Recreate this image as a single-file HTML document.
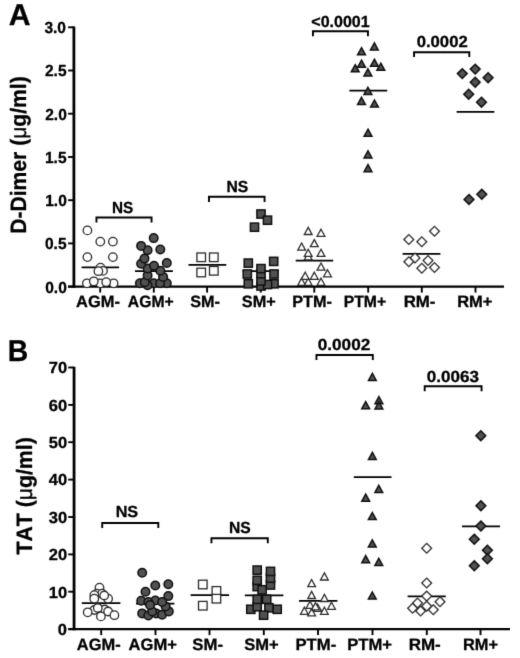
<!DOCTYPE html>
<html lang="en">
<head>
<meta charset="utf-8">
<title>D-Dimer and TAT levels</title>
<style>
html,body{margin:0;padding:0;background:#fff;}
body{width:520px;height:658px;overflow:hidden;}
svg{display:block;}
svg text{font-family:"Liberation Sans",Arial,Helvetica,sans-serif;font-weight:bold;text-rendering:geometricPrecision;font-kerning:none;fill:#000;stroke:#000;stroke-width:0.3px;stroke-linejoin:round;}
</style>
</head>
<body>
<svg width="520" height="658" viewBox="0 0 520 658">
<defs>
<filter id="soft" x="0" y="0" width="520" height="658" filterUnits="userSpaceOnUse" color-interpolation-filters="sRGB">
<feConvolveMatrix order="3" kernelMatrix="0 1 0 1 6 1 0 1 0" edgeMode="duplicate" preserveAlpha="false"/>
</filter>
</defs>
<rect width="520" height="658" fill="#fff"/>
<g filter="url(#soft)">
<rect width="520" height="658" fill="#fff"/>
<line x1="73.9" y1="26.5" x2="73.9" y2="287.8" stroke="#000" stroke-width="2.8"/>
<line x1="68.10000000000001" y1="286.6" x2="504.0" y2="286.6" stroke="#000" stroke-width="2.4"/>
<line x1="68.10000000000001" y1="286.6" x2="73.9" y2="286.6" stroke="#000" stroke-width="1.9"/>
<text transform="translate(45.20 292.50) scale(0.970 1)" font-size="16.0">0.0</text>
<line x1="68.10000000000001" y1="243.4" x2="73.9" y2="243.4" stroke="#000" stroke-width="1.9"/>
<text transform="translate(44.97 249.28) scale(0.970 1)" font-size="16.0">0.5</text>
<line x1="68.10000000000001" y1="200.2" x2="73.9" y2="200.2" stroke="#000" stroke-width="1.9"/>
<text transform="translate(45.20 206.07) scale(0.970 1)" font-size="16.0">1.0</text>
<line x1="68.10000000000001" y1="157.0" x2="73.9" y2="157.0" stroke="#000" stroke-width="1.9"/>
<text transform="translate(44.97 162.85) scale(0.970 1)" font-size="16.0">1.5</text>
<line x1="68.10000000000001" y1="113.7" x2="73.9" y2="113.7" stroke="#000" stroke-width="1.9"/>
<text transform="translate(45.20 119.63) scale(0.970 1)" font-size="16.0">2.0</text>
<line x1="68.10000000000001" y1="70.5" x2="73.9" y2="70.5" stroke="#000" stroke-width="1.9"/>
<text transform="translate(44.97 76.42) scale(0.970 1)" font-size="16.0">2.5</text>
<line x1="68.10000000000001" y1="27.3" x2="73.9" y2="27.3" stroke="#000" stroke-width="1.9"/>
<text transform="translate(44.40 33.20) scale(0.970 1)" font-size="16.0">3.0</text>
<line x1="100.2" y1="286.6" x2="100.2" y2="292.6" stroke="#000" stroke-width="1.9"/>
<text transform="translate(76.09 306.90) scale(1.003 1)" font-size="16.4">AGM-</text>
<line x1="153.8" y1="286.6" x2="153.8" y2="292.6" stroke="#000" stroke-width="1.9"/>
<text transform="translate(127.86 306.90) scale(0.958 1)" font-size="16.4">AGM+</text>
<line x1="207.1" y1="286.6" x2="207.1" y2="292.6" stroke="#000" stroke-width="1.9"/>
<text transform="translate(190.26 306.90) scale(0.988 1)" font-size="16.4">SM-</text>
<line x1="260.8" y1="286.6" x2="260.8" y2="292.6" stroke="#000" stroke-width="1.9"/>
<text transform="translate(241.76 306.90) scale(0.994 1)" font-size="16.4">SM+</text>
<line x1="314.3" y1="286.6" x2="314.3" y2="292.6" stroke="#000" stroke-width="1.9"/>
<text transform="translate(292.19 306.90) scale(0.993 1)" font-size="16.4">PTM-</text>
<line x1="368.2" y1="286.6" x2="368.2" y2="292.6" stroke="#000" stroke-width="1.9"/>
<text transform="translate(343.72 306.90) scale(0.962 1)" font-size="16.4">PTM+</text>
<line x1="421.8" y1="286.6" x2="421.8" y2="292.6" stroke="#000" stroke-width="1.9"/>
<text transform="translate(403.65 306.90) scale(1.028 1)" font-size="16.4">RM-</text>
<line x1="475.5" y1="286.6" x2="475.5" y2="292.6" stroke="#000" stroke-width="1.9"/>
<text transform="translate(457.18 306.90) scale(1.007 1)" font-size="16.4">RM+</text>
<text transform="translate(8.80 24.70) scale(0.995 1)" font-size="30.3">A</text>
<text transform="translate(25.9 233.8) rotate(-90) scale(0.951 1)" font-size="22.2">D-Dimer (<tspan font-weight="normal">μ</tspan>g/ml)</text>
<line x1="81.6" y1="267.3" x2="119.1" y2="267.3" stroke="#000" stroke-width="1.75"/>
<line x1="135.0" y1="271.1" x2="172.9" y2="271.1" stroke="#000" stroke-width="1.75"/>
<line x1="188.5" y1="264.8" x2="226.3" y2="264.8" stroke="#000" stroke-width="1.75"/>
<line x1="242.6" y1="271.1" x2="278.8" y2="271.1" stroke="#000" stroke-width="1.75"/>
<line x1="295.7" y1="260.6" x2="333.2" y2="260.6" stroke="#000" stroke-width="1.75"/>
<line x1="349.4" y1="90.7" x2="387.2" y2="90.7" stroke="#000" stroke-width="1.75"/>
<line x1="402.6" y1="253.8" x2="440.4" y2="253.8" stroke="#000" stroke-width="1.75"/>
<line x1="456.6" y1="111.9" x2="494.3" y2="111.9" stroke="#000" stroke-width="1.75"/>
<path d="M96.45 222.5V217.50H151.55V222.5" fill="none" stroke="#000" stroke-width="1.9"/>
<text transform="translate(111.96 212.70) scale(0.953 1)" font-size="16.0">NS</text>
<path d="M208.95 202.0V196.80H264.55V202.0" fill="none" stroke="#000" stroke-width="1.9"/>
<text transform="translate(226.43 192.30) scale(0.978 1)" font-size="16.0">NS</text>
<path d="M312.95 36.2V31.30H367.95V36.2" fill="none" stroke="#000" stroke-width="1.9"/>
<text transform="translate(311.31 26.90) scale(1.000 1)" font-size="16.0">&lt;0.0001</text>
<path d="M414.05 56.9V52.20H469.30V56.9" fill="none" stroke="#000" stroke-width="1.9"/>
<text transform="translate(416.68 46.60) scale(1.042 1)" font-size="16.0">0.0002</text>
<line x1="74.05" y1="366.7" x2="74.05" y2="630.3000000000001" stroke="#000" stroke-width="2.8"/>
<line x1="68.25" y1="629.1" x2="510.0" y2="629.1" stroke="#000" stroke-width="2.4"/>
<line x1="68.25" y1="629.1" x2="74.05" y2="629.1" stroke="#000" stroke-width="1.9"/>
<text transform="translate(57.86 635.10) scale(1.030 1)" font-size="16.0">0</text>
<line x1="68.25" y1="591.7" x2="74.05" y2="591.7" stroke="#000" stroke-width="1.9"/>
<text transform="translate(48.72 597.67) scale(1.030 1)" font-size="16.0">10</text>
<line x1="68.25" y1="554.4" x2="74.05" y2="554.4" stroke="#000" stroke-width="1.9"/>
<text transform="translate(48.72 560.24) scale(1.030 1)" font-size="16.0">20</text>
<line x1="68.25" y1="517.0" x2="74.05" y2="517.0" stroke="#000" stroke-width="1.9"/>
<text transform="translate(48.72 522.81) scale(1.030 1)" font-size="16.0">30</text>
<line x1="68.25" y1="479.6" x2="74.05" y2="479.6" stroke="#000" stroke-width="1.9"/>
<text transform="translate(48.72 485.39) scale(1.030 1)" font-size="16.0">40</text>
<line x1="68.25" y1="442.2" x2="74.05" y2="442.2" stroke="#000" stroke-width="1.9"/>
<text transform="translate(48.72 447.96) scale(1.030 1)" font-size="16.0">50</text>
<line x1="68.25" y1="404.9" x2="74.05" y2="404.9" stroke="#000" stroke-width="1.9"/>
<text transform="translate(48.72 410.53) scale(1.030 1)" font-size="16.0">60</text>
<line x1="68.25" y1="367.5" x2="74.05" y2="367.5" stroke="#000" stroke-width="1.9"/>
<text transform="translate(48.72 373.10) scale(1.030 1)" font-size="16.0">70</text>
<line x1="101.2" y1="629.1" x2="101.2" y2="635.1" stroke="#000" stroke-width="1.9"/>
<text transform="translate(76.84 650.10) scale(1.003 1)" font-size="16.4">AGM-</text>
<line x1="155.5" y1="629.1" x2="155.5" y2="635.1" stroke="#000" stroke-width="1.9"/>
<text transform="translate(128.59 650.10) scale(1.011 1)" font-size="16.4">AGM+</text>
<line x1="209.5" y1="629.1" x2="209.5" y2="635.1" stroke="#000" stroke-width="1.9"/>
<text transform="translate(192.25 650.10) scale(1.023 1)" font-size="16.4">SM-</text>
<line x1="263.8" y1="629.1" x2="263.8" y2="635.1" stroke="#000" stroke-width="1.9"/>
<text transform="translate(244.25 650.10) scale(1.009 1)" font-size="16.4">SM+</text>
<line x1="318.0" y1="629.1" x2="318.0" y2="635.1" stroke="#000" stroke-width="1.9"/>
<text transform="translate(295.41 650.10) scale(1.019 1)" font-size="16.4">PTM-</text>
<line x1="372.5" y1="629.1" x2="372.5" y2="635.1" stroke="#000" stroke-width="1.9"/>
<text transform="translate(347.17 650.10) scale(1.015 1)" font-size="16.4">PTM+</text>
<line x1="426.8" y1="629.1" x2="426.8" y2="635.1" stroke="#000" stroke-width="1.9"/>
<text transform="translate(408.64 650.10) scale(1.037 1)" font-size="16.4">RM-</text>
<line x1="480.5" y1="629.1" x2="480.5" y2="635.1" stroke="#000" stroke-width="1.9"/>
<text transform="translate(462.93 650.10) scale(0.999 1)" font-size="16.4">RM+</text>
<text transform="translate(7.71 361.40) scale(0.945 1)" font-size="30">B</text>
<text transform="translate(32.1 554.5) rotate(-90) scale(0.957 1)" font-size="22.2">TAT (<tspan font-weight="normal">μ</tspan>g/ml)</text>
<line x1="81.8" y1="603.2" x2="120.4" y2="603.2" stroke="#000" stroke-width="1.75"/>
<line x1="136.0" y1="603.5" x2="174.4" y2="603.5" stroke="#000" stroke-width="1.75"/>
<line x1="190.6" y1="595.0" x2="229.1" y2="595.0" stroke="#000" stroke-width="1.75"/>
<line x1="244.8" y1="595.4" x2="283.4" y2="595.4" stroke="#000" stroke-width="1.75"/>
<line x1="299.0" y1="600.9" x2="337.4" y2="600.9" stroke="#000" stroke-width="1.75"/>
<line x1="353.8" y1="477.1" x2="391.5" y2="477.1" stroke="#000" stroke-width="1.75"/>
<line x1="407.6" y1="596.4" x2="445.8" y2="596.4" stroke="#000" stroke-width="1.75"/>
<line x1="462.0" y1="526.3" x2="500.0" y2="526.3" stroke="#000" stroke-width="1.75"/>
<path d="M102.20 528.0V523.00H158.30V528.0" fill="none" stroke="#000" stroke-width="1.9"/>
<text transform="translate(115.65 517.30) scale(1.014 1)" font-size="16.0">NS</text>
<path d="M211.45 543.2V538.25H267.80V543.2" fill="none" stroke="#000" stroke-width="1.9"/>
<text transform="translate(228.93 532.80) scale(0.978 1)" font-size="16.0">NS</text>
<path d="M316.45 360.0V355.00H372.80V360.0" fill="none" stroke="#000" stroke-width="1.9"/>
<text transform="translate(317.76 350.20) scale(1.072 1)" font-size="16.0">0.0002</text>
<path d="M424.70 391.2V386.25H481.55V391.2" fill="none" stroke="#000" stroke-width="1.9"/>
<text transform="translate(426.77 381.80) scale(1.065 1)" font-size="16.0">0.0063</text>
<circle cx="87.4" cy="230.4" r="4.25" fill="#fff" stroke="#2b2b2b" stroke-width="1.3"/>
<circle cx="100.3" cy="241.6" r="4.25" fill="#fff" stroke="#2b2b2b" stroke-width="1.3"/>
<circle cx="112.9" cy="241.6" r="4.25" fill="#fff" stroke="#2b2b2b" stroke-width="1.3"/>
<circle cx="87.4" cy="257.1" r="4.25" fill="#fff" stroke="#2b2b2b" stroke-width="1.3"/>
<circle cx="112.9" cy="257.1" r="4.25" fill="#fff" stroke="#2b2b2b" stroke-width="1.3"/>
<circle cx="86.9" cy="283.3" r="4.25" fill="#fff" stroke="#2b2b2b" stroke-width="1.3"/>
<circle cx="113.6" cy="283.3" r="4.25" fill="#fff" stroke="#2b2b2b" stroke-width="1.3"/>
<circle cx="100.3" cy="283.3" r="4.25" fill="#fff" stroke="#2b2b2b" stroke-width="1.3"/>
<circle cx="93.8" cy="281.3" r="4.25" fill="#fff" stroke="#2b2b2b" stroke-width="1.3"/>
<circle cx="106.2" cy="282.1" r="4.25" fill="#fff" stroke="#2b2b2b" stroke-width="1.3"/>
<circle cx="100.5" cy="267.6" r="4.25" fill="#fff" stroke="#2b2b2b" stroke-width="1.3"/>
<circle cx="103.0" cy="270.8" r="4.25" fill="#fff" stroke="#2b2b2b" stroke-width="1.3"/>
<circle cx="98.4" cy="271.2" r="4.25" fill="#fff" stroke="#2b2b2b" stroke-width="1.3"/>
<circle cx="139.9" cy="283.3" r="4.25" fill="#515151" stroke="#101010" stroke-width="1.5"/>
<circle cx="166.8" cy="283.3" r="4.25" fill="#515151" stroke="#101010" stroke-width="1.5"/>
<circle cx="153.7" cy="283.3" r="4.25" fill="#515151" stroke="#101010" stroke-width="1.5"/>
<circle cx="160.1" cy="283.3" r="4.25" fill="#515151" stroke="#101010" stroke-width="1.5"/>
<circle cx="147.6" cy="285.3" r="4.25" fill="#515151" stroke="#101010" stroke-width="1.5"/>
<circle cx="144.8" cy="282.3" r="4.25" fill="#515151" stroke="#101010" stroke-width="1.5"/>
<circle cx="163.1" cy="276.9" r="4.25" fill="#515151" stroke="#101010" stroke-width="1.5"/>
<circle cx="147.6" cy="275.4" r="4.25" fill="#515151" stroke="#101010" stroke-width="1.5"/>
<circle cx="160.3" cy="270.7" r="4.25" fill="#515151" stroke="#101010" stroke-width="1.5"/>
<circle cx="147.6" cy="268.5" r="4.25" fill="#515151" stroke="#101010" stroke-width="1.5"/>
<circle cx="154.0" cy="265.7" r="4.25" fill="#515151" stroke="#101010" stroke-width="1.5"/>
<circle cx="141.1" cy="263.8" r="4.25" fill="#515151" stroke="#101010" stroke-width="1.5"/>
<circle cx="166.8" cy="263.0" r="4.25" fill="#515151" stroke="#101010" stroke-width="1.5"/>
<circle cx="144.5" cy="258.6" r="4.25" fill="#515151" stroke="#101010" stroke-width="1.5"/>
<circle cx="160.3" cy="249.5" r="4.25" fill="#515151" stroke="#101010" stroke-width="1.5"/>
<circle cx="147.6" cy="250.2" r="4.25" fill="#515151" stroke="#101010" stroke-width="1.5"/>
<circle cx="141.1" cy="245.9" r="4.25" fill="#515151" stroke="#101010" stroke-width="1.5"/>
<circle cx="153.7" cy="238.1" r="4.25" fill="#515151" stroke="#101010" stroke-width="1.5"/>
<rect x="196.9" y="253.0" width="8.6" height="8.6" fill="#fff" stroke="#2b2b2b" stroke-width="1.3"/>
<rect x="209.5" y="253.0" width="8.6" height="8.6" fill="#fff" stroke="#2b2b2b" stroke-width="1.3"/>
<rect x="196.9" y="268.2" width="8.6" height="8.6" fill="#fff" stroke="#2b2b2b" stroke-width="1.3"/>
<rect x="209.5" y="266.5" width="8.6" height="8.6" fill="#fff" stroke="#2b2b2b" stroke-width="1.3"/>
<rect x="256.9" y="281.9" width="8.2" height="8.2" fill="#515151" stroke="#101010" stroke-width="1.5"/>
<rect x="244.2" y="279.7" width="8.2" height="8.2" fill="#515151" stroke="#101010" stroke-width="1.5"/>
<rect x="269.9" y="279.7" width="8.2" height="8.2" fill="#515151" stroke="#101010" stroke-width="1.5"/>
<rect x="263.4" y="280.4" width="8.2" height="8.2" fill="#515151" stroke="#101010" stroke-width="1.5"/>
<rect x="256.9" y="276.9" width="8.2" height="8.2" fill="#515151" stroke="#101010" stroke-width="1.5"/>
<rect x="243.2" y="269.9" width="8.2" height="8.2" fill="#515151" stroke="#101010" stroke-width="1.5"/>
<rect x="269.9" y="269.9" width="8.2" height="8.2" fill="#515151" stroke="#101010" stroke-width="1.5"/>
<rect x="256.9" y="269.6" width="8.2" height="8.2" fill="#515151" stroke="#101010" stroke-width="1.5"/>
<rect x="256.9" y="264.5" width="8.2" height="8.2" fill="#515151" stroke="#101010" stroke-width="1.5"/>
<rect x="244.2" y="259.0" width="8.2" height="8.2" fill="#515151" stroke="#101010" stroke-width="1.5"/>
<rect x="269.6" y="257.3" width="8.2" height="8.2" fill="#515151" stroke="#101010" stroke-width="1.5"/>
<rect x="250.4" y="223.1" width="8.2" height="8.2" fill="#515151" stroke="#101010" stroke-width="1.5"/>
<rect x="256.9" y="209.9" width="8.2" height="8.2" fill="#515151" stroke="#101010" stroke-width="1.5"/>
<rect x="263.4" y="216.1" width="8.2" height="8.2" fill="#515151" stroke="#101010" stroke-width="1.5"/>
<path d="M301.6 278.2L305.5 285.3H297.8Z" fill="#fff" stroke="#2b2b2b" stroke-width="1.3"/>
<path d="M308.2 278.2L312.1 285.3H304.3Z" fill="#fff" stroke="#2b2b2b" stroke-width="1.3"/>
<path d="M321.0 278.2L324.9 285.3H317.1Z" fill="#fff" stroke="#2b2b2b" stroke-width="1.3"/>
<path d="M305.2 272.2L309.1 279.3H301.3Z" fill="#fff" stroke="#2b2b2b" stroke-width="1.3"/>
<path d="M314.3 272.2L318.2 279.3H310.4Z" fill="#fff" stroke="#2b2b2b" stroke-width="1.3"/>
<path d="M327.5 269.7L331.4 276.8H323.6Z" fill="#fff" stroke="#2b2b2b" stroke-width="1.3"/>
<path d="M321.0 263.0L324.9 270.1H317.1Z" fill="#fff" stroke="#2b2b2b" stroke-width="1.3"/>
<path d="M308.2 252.7L312.1 259.8H304.3Z" fill="#fff" stroke="#2b2b2b" stroke-width="1.3"/>
<path d="M308.2 249.3L312.1 256.4H304.3Z" fill="#fff" stroke="#2b2b2b" stroke-width="1.3"/>
<path d="M321.0 249.3L324.9 256.4H317.1Z" fill="#fff" stroke="#2b2b2b" stroke-width="1.3"/>
<path d="M301.6 243.0L305.5 250.1H297.8Z" fill="#fff" stroke="#2b2b2b" stroke-width="1.3"/>
<path d="M314.3 239.6L318.2 246.7H310.4Z" fill="#fff" stroke="#2b2b2b" stroke-width="1.3"/>
<path d="M321.0 229.2L324.9 236.3H317.1Z" fill="#fff" stroke="#2b2b2b" stroke-width="1.3"/>
<path d="M308.2 227.4L312.1 234.5H304.3Z" fill="#fff" stroke="#2b2b2b" stroke-width="1.3"/>
<path d="M374.4 42.9L378.2 50.0H370.5Z" fill="#515151" stroke="#101010" stroke-width="1.5"/>
<path d="M361.5 47.7L365.4 54.8H357.6Z" fill="#515151" stroke="#101010" stroke-width="1.5"/>
<path d="M361.5 60.2L365.4 67.3H357.6Z" fill="#515151" stroke="#101010" stroke-width="1.5"/>
<path d="M374.4 59.2L378.2 66.3H370.5Z" fill="#515151" stroke="#101010" stroke-width="1.5"/>
<path d="M355.2 64.7L359.1 71.8H351.3Z" fill="#515151" stroke="#101010" stroke-width="1.5"/>
<path d="M380.8 63.2L384.7 70.3H376.9Z" fill="#515151" stroke="#101010" stroke-width="1.5"/>
<path d="M367.9 68.9L371.8 76.0H364.0Z" fill="#515151" stroke="#101010" stroke-width="1.5"/>
<path d="M367.9 87.3L371.8 94.4H364.0Z" fill="#515151" stroke="#101010" stroke-width="1.5"/>
<path d="M361.5 97.3L365.4 104.4H357.6Z" fill="#515151" stroke="#101010" stroke-width="1.5"/>
<path d="M374.5 100.0L378.4 107.1H370.6Z" fill="#515151" stroke="#101010" stroke-width="1.5"/>
<path d="M368.0 129.2L371.9 136.3H364.1Z" fill="#515151" stroke="#101010" stroke-width="1.5"/>
<path d="M368.0 150.9L371.9 158.0H364.1Z" fill="#515151" stroke="#101010" stroke-width="1.5"/>
<path d="M368.0 164.6L371.9 171.7H364.1Z" fill="#515151" stroke="#101010" stroke-width="1.5"/>
<path d="M434.5 226.4L439.4 231.3L434.5 236.2L429.6 231.3Z" fill="#fff" stroke="#2b2b2b" stroke-width="1.3"/>
<path d="M408.8 234.6L413.7 239.5L408.8 244.4L403.9 239.5Z" fill="#fff" stroke="#2b2b2b" stroke-width="1.3"/>
<path d="M421.8 236.9L426.7 241.8L421.8 246.7L416.9 241.8Z" fill="#fff" stroke="#2b2b2b" stroke-width="1.3"/>
<path d="M415.0 253.1L419.9 258.0L415.0 262.9L410.1 258.0Z" fill="#fff" stroke="#2b2b2b" stroke-width="1.3"/>
<path d="M428.0 255.6L432.9 260.5L428.0 265.4L423.1 260.5Z" fill="#fff" stroke="#2b2b2b" stroke-width="1.3"/>
<path d="M408.8 256.9L413.7 261.8L408.8 266.7L403.9 261.8Z" fill="#fff" stroke="#2b2b2b" stroke-width="1.3"/>
<path d="M421.8 263.4L426.7 268.3L421.8 273.2L416.9 268.3Z" fill="#fff" stroke="#2b2b2b" stroke-width="1.3"/>
<path d="M434.5 262.6L439.4 267.5L434.5 272.4L429.6 267.5Z" fill="#fff" stroke="#2b2b2b" stroke-width="1.3"/>
<path d="M475.2 64.2L480.1 69.1L475.2 74.0L470.3 69.1Z" fill="#515151" stroke="#101010" stroke-width="1.5"/>
<path d="M462.3 68.7L467.2 73.6L462.3 78.5L457.4 73.6Z" fill="#515151" stroke="#101010" stroke-width="1.5"/>
<path d="M488.1 72.8L493.0 77.7L488.1 82.6L483.2 77.7Z" fill="#515151" stroke="#101010" stroke-width="1.5"/>
<path d="M475.2 77.3L480.1 82.2L475.2 87.1L470.3 82.2Z" fill="#515151" stroke="#101010" stroke-width="1.5"/>
<path d="M468.7 89.3L473.6 94.2L468.7 99.1L463.8 94.2Z" fill="#515151" stroke="#101010" stroke-width="1.5"/>
<path d="M481.5 97.3L486.4 102.2L481.5 107.1L476.6 102.2Z" fill="#515151" stroke="#101010" stroke-width="1.5"/>
<path d="M469.0 194.6L473.9 199.5L469.0 204.4L464.1 199.5Z" fill="#515151" stroke="#101010" stroke-width="1.5"/>
<path d="M481.8 189.4L486.7 194.3L481.8 199.2L476.9 194.3Z" fill="#515151" stroke="#101010" stroke-width="1.5"/>
<circle cx="99.5" cy="587.6" r="4.25" fill="#fff" stroke="#2b2b2b" stroke-width="1.3"/>
<circle cx="96.8" cy="593.7" r="4.25" fill="#fff" stroke="#2b2b2b" stroke-width="1.3"/>
<circle cx="102.2" cy="593.7" r="4.25" fill="#fff" stroke="#2b2b2b" stroke-width="1.3"/>
<circle cx="94.3" cy="595.2" r="4.25" fill="#fff" stroke="#2b2b2b" stroke-width="1.3"/>
<circle cx="108.1" cy="598.7" r="4.25" fill="#fff" stroke="#2b2b2b" stroke-width="1.3"/>
<circle cx="94.3" cy="598.7" r="4.25" fill="#fff" stroke="#2b2b2b" stroke-width="1.3"/>
<circle cx="104.2" cy="595.5" r="4.25" fill="#fff" stroke="#2b2b2b" stroke-width="1.3"/>
<circle cx="104.7" cy="609.5" r="4.25" fill="#fff" stroke="#2b2b2b" stroke-width="1.3"/>
<circle cx="94.3" cy="610.0" r="4.25" fill="#fff" stroke="#2b2b2b" stroke-width="1.3"/>
<circle cx="87.7" cy="612.3" r="4.25" fill="#fff" stroke="#2b2b2b" stroke-width="1.3"/>
<circle cx="108.1" cy="611.5" r="4.25" fill="#fff" stroke="#2b2b2b" stroke-width="1.3"/>
<circle cx="97.8" cy="608.0" r="4.25" fill="#fff" stroke="#2b2b2b" stroke-width="1.3"/>
<circle cx="100.9" cy="616.4" r="4.25" fill="#fff" stroke="#2b2b2b" stroke-width="1.3"/>
<circle cx="114.4" cy="615.2" r="4.25" fill="#fff" stroke="#2b2b2b" stroke-width="1.3"/>
<circle cx="142.2" cy="613.4" r="4.25" fill="#515151" stroke="#101010" stroke-width="1.5"/>
<circle cx="148.3" cy="615.5" r="4.25" fill="#515151" stroke="#101010" stroke-width="1.5"/>
<circle cx="156.2" cy="613.4" r="4.25" fill="#515151" stroke="#101010" stroke-width="1.5"/>
<circle cx="162.1" cy="614.8" r="4.25" fill="#515151" stroke="#101010" stroke-width="1.5"/>
<circle cx="168.8" cy="611.4" r="4.25" fill="#515151" stroke="#101010" stroke-width="1.5"/>
<circle cx="152.2" cy="611.4" r="4.25" fill="#515151" stroke="#101010" stroke-width="1.5"/>
<circle cx="165.6" cy="606.4" r="4.25" fill="#515151" stroke="#101010" stroke-width="1.5"/>
<circle cx="141.2" cy="600.7" r="4.25" fill="#515151" stroke="#101010" stroke-width="1.5"/>
<circle cx="155.3" cy="600.5" r="4.25" fill="#515151" stroke="#101010" stroke-width="1.5"/>
<circle cx="148.3" cy="602.0" r="4.25" fill="#515151" stroke="#101010" stroke-width="1.5"/>
<circle cx="162.1" cy="602.0" r="4.25" fill="#515151" stroke="#101010" stroke-width="1.5"/>
<circle cx="150.0" cy="605.0" r="4.25" fill="#515151" stroke="#101010" stroke-width="1.5"/>
<circle cx="168.3" cy="596.1" r="4.25" fill="#515151" stroke="#101010" stroke-width="1.5"/>
<circle cx="145.5" cy="591.8" r="4.25" fill="#515151" stroke="#101010" stroke-width="1.5"/>
<circle cx="155.3" cy="585.5" r="4.25" fill="#515151" stroke="#101010" stroke-width="1.5"/>
<circle cx="168.3" cy="584.2" r="4.25" fill="#515151" stroke="#101010" stroke-width="1.5"/>
<circle cx="142.2" cy="572.8" r="4.25" fill="#515151" stroke="#101010" stroke-width="1.5"/>
<rect x="198.5" y="580.2" width="8.6" height="8.6" fill="#fff" stroke="#2b2b2b" stroke-width="1.3"/>
<rect x="212.1" y="586.6" width="8.6" height="8.6" fill="#fff" stroke="#2b2b2b" stroke-width="1.3"/>
<rect x="212.1" y="594.4" width="8.6" height="8.6" fill="#fff" stroke="#2b2b2b" stroke-width="1.3"/>
<rect x="198.5" y="601.4" width="8.6" height="8.6" fill="#fff" stroke="#2b2b2b" stroke-width="1.3"/>
<rect x="246.7" y="605.2" width="8.2" height="8.2" fill="#515151" stroke="#101010" stroke-width="1.5"/>
<rect x="273.1" y="605.2" width="8.2" height="8.2" fill="#515151" stroke="#101010" stroke-width="1.5"/>
<rect x="253.1" y="602.6" width="8.2" height="8.2" fill="#515151" stroke="#101010" stroke-width="1.5"/>
<rect x="264.8" y="603.7" width="8.2" height="8.2" fill="#515151" stroke="#101010" stroke-width="1.5"/>
<rect x="259.5" y="611.1" width="8.2" height="8.2" fill="#515151" stroke="#101010" stroke-width="1.5"/>
<rect x="253.1" y="595.2" width="8.2" height="8.2" fill="#515151" stroke="#101010" stroke-width="1.5"/>
<rect x="262.6" y="595.2" width="8.2" height="8.2" fill="#515151" stroke="#101010" stroke-width="1.5"/>
<rect x="253.1" y="582.5" width="8.2" height="8.2" fill="#515151" stroke="#101010" stroke-width="1.5"/>
<rect x="266.4" y="580.9" width="8.2" height="8.2" fill="#515151" stroke="#101010" stroke-width="1.5"/>
<rect x="253.1" y="576.2" width="8.2" height="8.2" fill="#515151" stroke="#101010" stroke-width="1.5"/>
<rect x="266.4" y="574.1" width="8.2" height="8.2" fill="#515151" stroke="#101010" stroke-width="1.5"/>
<rect x="253.1" y="566.0" width="8.2" height="8.2" fill="#515151" stroke="#101010" stroke-width="1.5"/>
<rect x="266.4" y="567.3" width="8.2" height="8.2" fill="#515151" stroke="#101010" stroke-width="1.5"/>
<rect x="258.0" y="585.7" width="8.2" height="8.2" fill="#515151" stroke="#101010" stroke-width="1.5"/>
<path d="M311.6 608.7L315.5 615.8H307.8Z" fill="#fff" stroke="#2b2b2b" stroke-width="1.3"/>
<path d="M304.4 607.2L308.2 614.3H300.5Z" fill="#fff" stroke="#2b2b2b" stroke-width="1.3"/>
<path d="M324.4 607.2L328.2 614.3H320.5Z" fill="#fff" stroke="#2b2b2b" stroke-width="1.3"/>
<path d="M317.7 604.2L321.6 611.3H313.8Z" fill="#fff" stroke="#2b2b2b" stroke-width="1.3"/>
<path d="M331.5 602.2L335.4 609.3H327.6Z" fill="#fff" stroke="#2b2b2b" stroke-width="1.3"/>
<path d="M310.0 601.2L313.9 608.3H306.1Z" fill="#fff" stroke="#2b2b2b" stroke-width="1.3"/>
<path d="M315.5 602.7L319.4 609.8H311.6Z" fill="#fff" stroke="#2b2b2b" stroke-width="1.3"/>
<path d="M324.4 594.4L328.2 601.5H320.5Z" fill="#fff" stroke="#2b2b2b" stroke-width="1.3"/>
<path d="M311.6 591.4L315.5 598.5H307.8Z" fill="#fff" stroke="#2b2b2b" stroke-width="1.3"/>
<path d="M311.6 579.5L315.5 586.6H307.8Z" fill="#fff" stroke="#2b2b2b" stroke-width="1.3"/>
<path d="M324.4 572.9L328.2 580.0H320.5Z" fill="#fff" stroke="#2b2b2b" stroke-width="1.3"/>
<path d="M378.8 485.4L382.7 492.5H374.9Z" fill="#515151" stroke="#101010" stroke-width="1.5"/>
<path d="M365.7 494.1L369.6 501.2H361.8Z" fill="#515151" stroke="#101010" stroke-width="1.5"/>
<path d="M372.3 512.5L376.2 519.6H368.4Z" fill="#515151" stroke="#101010" stroke-width="1.5"/>
<path d="M372.3 539.8L376.2 546.9H368.4Z" fill="#515151" stroke="#101010" stroke-width="1.5"/>
<path d="M365.7 555.6L369.6 562.7H361.8Z" fill="#515151" stroke="#101010" stroke-width="1.5"/>
<path d="M378.8 558.4L382.7 565.5H374.9Z" fill="#515151" stroke="#101010" stroke-width="1.5"/>
<path d="M372.3 592.0L376.2 599.1H368.4Z" fill="#515151" stroke="#101010" stroke-width="1.5"/>
<path d="M372.4 373.3L376.2 380.4H368.5Z" fill="#515151" stroke="#101010" stroke-width="1.5"/>
<path d="M378.9 396.6L382.8 403.7H375.0Z" fill="#515151" stroke="#101010" stroke-width="1.5"/>
<path d="M365.7 401.6L369.6 408.7H361.8Z" fill="#515151" stroke="#101010" stroke-width="1.5"/>
<path d="M378.9 401.9L382.8 409.0H375.0Z" fill="#515151" stroke="#101010" stroke-width="1.5"/>
<path d="M372.4 452.4L376.2 459.5H368.5Z" fill="#515151" stroke="#101010" stroke-width="1.5"/>
<path d="M420.6 606.1L425.5 611.0L420.6 615.9L415.7 611.0Z" fill="#fff" stroke="#2b2b2b" stroke-width="1.3"/>
<path d="M433.3 604.8L438.2 609.7L433.3 614.6L428.4 609.7Z" fill="#fff" stroke="#2b2b2b" stroke-width="1.3"/>
<path d="M412.6 603.4L417.5 608.3L412.6 613.2L407.7 608.3Z" fill="#fff" stroke="#2b2b2b" stroke-width="1.3"/>
<path d="M426.7 601.2L431.6 606.1L426.7 611.0L421.8 606.1Z" fill="#fff" stroke="#2b2b2b" stroke-width="1.3"/>
<path d="M417.5 598.1L422.4 603.0L417.5 607.9L412.6 603.0Z" fill="#fff" stroke="#2b2b2b" stroke-width="1.3"/>
<path d="M440.0 596.8L444.9 601.7L440.0 606.6L435.1 601.7Z" fill="#fff" stroke="#2b2b2b" stroke-width="1.3"/>
<path d="M426.7 591.2L431.6 596.1L426.7 601.0L421.8 596.1Z" fill="#fff" stroke="#2b2b2b" stroke-width="1.3"/>
<path d="M426.7 578.1L431.6 583.0L426.7 587.9L421.8 583.0Z" fill="#fff" stroke="#2b2b2b" stroke-width="1.3"/>
<path d="M426.7 543.4L431.6 548.3L426.7 553.2L421.8 548.3Z" fill="#fff" stroke="#2b2b2b" stroke-width="1.3"/>
<path d="M480.8 430.8L485.7 435.7L480.8 440.6L475.9 435.7Z" fill="#515151" stroke="#101010" stroke-width="1.5"/>
<path d="M480.9 500.9L485.8 505.8L480.9 510.7L476.0 505.8Z" fill="#515151" stroke="#101010" stroke-width="1.5"/>
<path d="M480.9 521.1L485.8 526.0L480.9 530.9L476.0 526.0Z" fill="#515151" stroke="#101010" stroke-width="1.5"/>
<path d="M474.3 534.4L479.2 539.3L474.3 544.2L469.4 539.3Z" fill="#515151" stroke="#101010" stroke-width="1.5"/>
<path d="M487.4 545.3L492.3 550.2L487.4 555.1L482.5 550.2Z" fill="#515151" stroke="#101010" stroke-width="1.5"/>
<path d="M487.4 553.8L492.3 558.7L487.4 563.6L482.5 558.7Z" fill="#515151" stroke="#101010" stroke-width="1.5"/>
<path d="M474.3 560.9L479.2 565.8L474.3 570.7L469.4 565.8Z" fill="#515151" stroke="#101010" stroke-width="1.5"/>
</g>
</svg>
</body>
</html>
